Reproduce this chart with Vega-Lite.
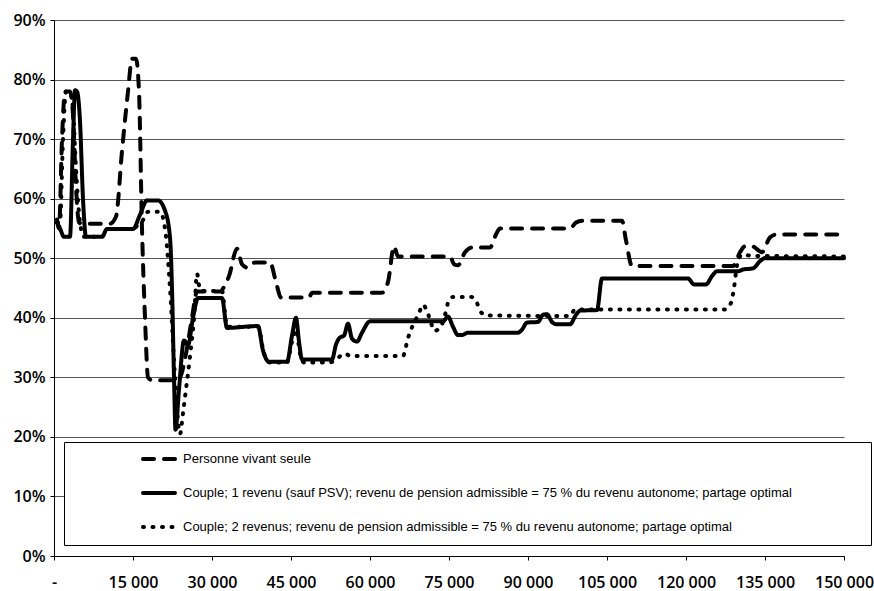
{
  "$schema": "https://vega.github.io/schema/vega-lite/v6.json",
  "width": 790,
  "height": 536,
  "autosize": {"type": "none"},
  "padding": {"left": 54, "top": 20, "right": 30, "bottom": 35},
  "background": "white",
  "config": {
    "view": {"stroke": null},
    "axis": {"labelFont": "Open Sans", "labelFontSize": 16, "labelFontWeight": 600, "labelColor": "black", "domainColor": "black", "tickColor": "black", "tickSize": 4}
  },
  "encoding": {
    "x": {"field": "x", "type": "quantitative", "scale": {"domain": [0, 150000], "nice": false},
      "axis": {"title": null, "grid": false, "values": [0,15000,30000,45000,60000,75000,90000,105000,120000,135000,150000], "labelPadding": 14, "labelFlush": false, "labelOverlap": false,
        "labelExpr": "datum.value == 0 ? '-' : replace(format(datum.value, ','), ',', ' ')"}},
    "y": {"field": "y", "type": "quantitative", "scale": {"domain": [0, 0.9], "nice": false},
      "axis": {"title": null, "format": ".0%", "values": [0,0.1,0.2,0.3,0.4,0.5,0.6,0.7,0.8,0.9], "grid": true, "gridColor": "#555", "gridWidth": 1, "labelPadding": 5}}
  },
  "layer": [
    {
      "data": {"values": [
        {"x":570,"y":0.565},{"x":949,"y":0.55},{"x":1519,"y":0.70},{"x":2089,"y":0.78},{"x":3038,"y":0.78},{"x":3608,"y":0.74},{"x":4177,"y":0.62},{"x":4747,"y":0.56},{"x":5316,"y":0.558},{"x":10633,"y":0.558},{"x":11772,"y":0.57},{"x":12911,"y":0.68},{"x":14051,"y":0.78},{"x":14810,"y":0.835},{"x":15570,"y":0.835},{"x":16139,"y":0.78},{"x":16709,"y":0.55},{"x":17278,"y":0.40},{"x":17848,"y":0.30},{"x":18608,"y":0.295},{"x":22975,"y":0.295},{"x":23924,"y":0.30},{"x":25063,"y":0.34},{"x":26203,"y":0.40},{"x":27152,"y":0.444},{"x":31519,"y":0.444},{"x":32468,"y":0.455},{"x":33228,"y":0.47},{"x":34747,"y":0.516},{"x":35696,"y":0.49},{"x":36835,"y":0.484},{"x":38165,"y":0.493},{"x":41013,"y":0.493},{"x":42152,"y":0.46},{"x":43101,"y":0.434},{"x":48418,"y":0.434},{"x":48987,"y":0.442},{"x":62278,"y":0.442},{"x":63418,"y":0.46},{"x":64557,"y":0.52},{"x":65316,"y":0.503},{"x":75190,"y":0.503},{"x":75949,"y":0.49},{"x":76709,"y":0.488},{"x":78038,"y":0.51},{"x":79367,"y":0.518},{"x":82785,"y":0.518},{"x":83924,"y":0.54},{"x":84684,"y":0.55},{"x":97975,"y":0.55},{"x":99114,"y":0.56},{"x":100253,"y":0.563},{"x":107848,"y":0.563},{"x":108608,"y":0.53},{"x":109747,"y":0.487},{"x":128924,"y":0.487},{"x":130253,"y":0.51},{"x":131203,"y":0.52},{"x":132532,"y":0.52},{"x":134430,"y":0.51},{"x":135949,"y":0.535},{"x":137278,"y":0.54},{"x":150000,"y":0.54}
      ]},
      "mark": {"type": "line", "color": "black", "strokeWidth": 4, "strokeCap": "round", "interpolate": "monotone"},
      "encoding": {"strokeDash": {"datum": "Personne vivant seule", "type": "nominal",
        "scale": {"domain": ["Personne vivant seule", "Couple; 1 revenu (sauf PSV); revenu de pension admissible = 75 % du revenu autonome; partage optimal", "Couple; 2 revenus; revenu de pension admissible = 75 % du revenu autonome; partage optimal"], "range": [[11, 10], [1, 0], [1, 8.5]]},
        "legend": {"title": " ", "titleOrient": "right", "titlePadding": 69, "orient": "none", "legendX": 10, "legendY": 422, "direction": "vertical",
          "fillColor": "white", "strokeColor": "black", "padding": 10, "symbolOffset": 78, "symbolType": "M-3.2,0H3.2", "symbolSize": 100, "symbolStrokeWidth": 4, "symbolStrokeColor": "black",
          "labelFont": "Liberation Sans", "labelFontSize": 13, "labelColor": "black", "labelLimit": 0, "labelOffset": 17, "rowPadding": 18,
          "encode": {"symbols": {"update": {"strokeCap": {"value": "round"}}}}}}}
    },
    {
      "data": {"values": [
        {"x":570,"y":0.56},{"x":1139,"y":0.55},{"x":1899,"y":0.536},{"x":3038,"y":0.536},{"x":3608,"y":0.70},{"x":3987,"y":0.782},{"x":4367,"y":0.78},{"x":4937,"y":0.73},{"x":5506,"y":0.60},{"x":6076,"y":0.536},{"x":9114,"y":0.536},{"x":10063,"y":0.549},{"x":15000,"y":0.549},{"x":16329,"y":0.573},{"x":17658,"y":0.597},{"x":19747,"y":0.597},{"x":21076,"y":0.58},{"x":22025,"y":0.535},{"x":22405,"y":0.45},{"x":22785,"y":0.30},{"x":23070,"y":0.212},{"x":23734,"y":0.28},{"x":24684,"y":0.362},{"x":25443,"y":0.354},{"x":26392,"y":0.40},{"x":27342,"y":0.433},{"x":31899,"y":0.433},{"x":32848,"y":0.383},{"x":38354,"y":0.386},{"x":38734,"y":0.386},{"x":39684,"y":0.345},{"x":40823,"y":0.326},{"x":44241,"y":0.326},{"x":45190,"y":0.37},{"x":45949,"y":0.40},{"x":46519,"y":0.36},{"x":47089,"y":0.33},{"x":52785,"y":0.33},{"x":53544,"y":0.355},{"x":54304,"y":0.367},{"x":55063,"y":0.37},{"x":55823,"y":0.39},{"x":56582,"y":0.365},{"x":57532,"y":0.36},{"x":58481,"y":0.375},{"x":60000,"y":0.394},{"x":73861,"y":0.394},{"x":74810,"y":0.402},{"x":75759,"y":0.385},{"x":76709,"y":0.371},{"x":77468,"y":0.371},{"x":78608,"y":0.375},{"x":88101,"y":0.375},{"x":88861,"y":0.38},{"x":89810,"y":0.392},{"x":91899,"y":0.393},{"x":92848,"y":0.405},{"x":93608,"y":0.406},{"x":94557,"y":0.393},{"x":95506,"y":0.389},{"x":97975,"y":0.389},{"x":99114,"y":0.405},{"x":99873,"y":0.412},{"x":103101,"y":0.413},{"x":104051,"y":0.466},{"x":120380,"y":0.466},{"x":121519,"y":0.456},{"x":123797,"y":0.456},{"x":124937,"y":0.47},{"x":125886,"y":0.478},{"x":129873,"y":0.478},{"x":130823,"y":0.481},{"x":132722,"y":0.483},{"x":134051,"y":0.495},{"x":135000,"y":0.50},{"x":150000,"y":0.50}
      ]},
      "mark": {"type": "line", "color": "black", "strokeWidth": 4, "strokeCap": "round", "interpolate": "monotone"},
      "encoding": {"strokeDash": {"datum": "Couple; 1 revenu (sauf PSV); revenu de pension admissible = 75 % du revenu autonome; partage optimal", "type": "nominal"}}
    },
    {
      "data": {"values": [
        {"x":570,"y":0.56},{"x":1139,"y":0.56},{"x":1709,"y":0.70},{"x":2278,"y":0.78},{"x":3038,"y":0.78},{"x":3608,"y":0.75},{"x":4177,"y":0.65},{"x":4937,"y":0.56},{"x":5696,"y":0.536},{"x":9114,"y":0.536},{"x":10063,"y":0.549},{"x":15000,"y":0.549},{"x":15949,"y":0.556},{"x":16899,"y":0.564},{"x":17848,"y":0.578},{"x":20127,"y":0.578},{"x":21076,"y":0.55},{"x":22025,"y":0.45},{"x":22975,"y":0.30},{"x":23924,"y":0.205},{"x":24494,"y":0.24},{"x":25063,"y":0.28},{"x":25823,"y":0.335},{"x":26582,"y":0.40},{"x":27152,"y":0.474},{"x":27722,"y":0.447},{"x":28671,"y":0.445},{"x":31899,"y":0.445},{"x":32848,"y":0.385},{"x":38734,"y":0.385},{"x":39873,"y":0.34},{"x":41013,"y":0.325},{"x":44241,"y":0.325},{"x":45190,"y":0.36},{"x":45949,"y":0.38},{"x":46709,"y":0.34},{"x":47468,"y":0.325},{"x":52405,"y":0.325},{"x":53544,"y":0.33},{"x":55253,"y":0.34},{"x":56203,"y":0.336},{"x":66266,"y":0.336},{"x":67215,"y":0.366},{"x":67785,"y":0.38},{"x":69304,"y":0.408},{"x":70063,"y":0.422},{"x":70633,"y":0.415},{"x":71582,"y":0.392},{"x":72152,"y":0.378},{"x":73291,"y":0.383},{"x":74430,"y":0.411},{"x":74810,"y":0.425},{"x":75759,"y":0.435},{"x":79177,"y":0.435},{"x":80316,"y":0.425},{"x":80886,"y":0.411},{"x":82215,"y":0.404},{"x":97975,"y":0.403},{"x":98924,"y":0.414},{"x":127405,"y":0.414},{"x":128544,"y":0.425},{"x":129114,"y":0.45},{"x":129684,"y":0.488},{"x":130633,"y":0.506},{"x":132532,"y":0.504},{"x":150000,"y":0.503}
      ]},
      "mark": {"type": "line", "color": "black", "strokeWidth": 4, "strokeCap": "round", "interpolate": "monotone"},
      "encoding": {"strokeDash": {"datum": "Couple; 2 revenus; revenu de pension admissible = 75 % du revenu autonome; partage optimal", "type": "nominal"}}
    }
  ]
}
